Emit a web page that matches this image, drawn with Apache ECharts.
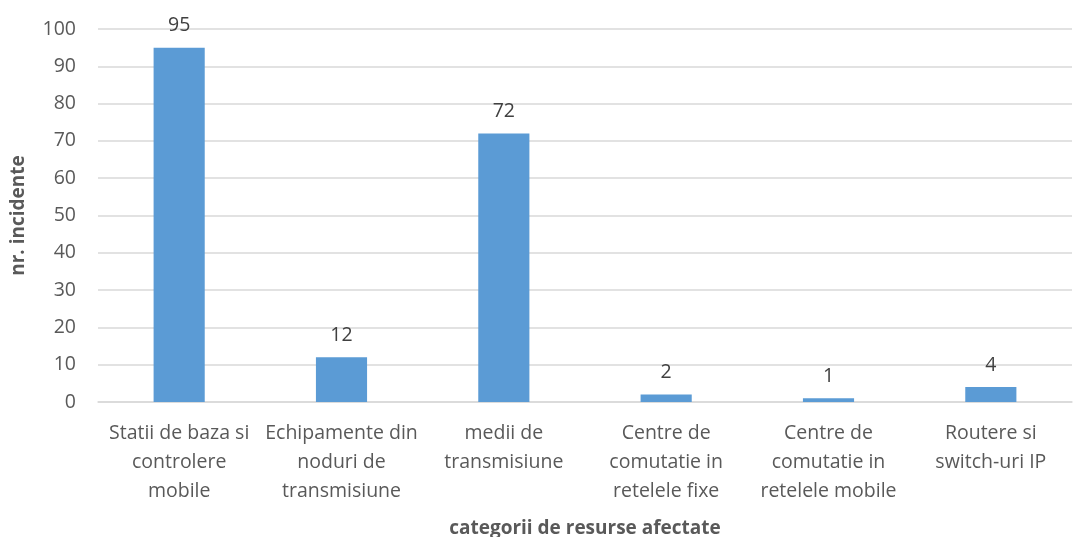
<!DOCTYPE html>
<html>
<head>
<meta charset="utf-8">
<script src="https://cdn.jsdelivr.net/npm/echarts@6/dist/echarts.min.js"></script>
<style>
  html, body { margin: 0; padding: 0; background: #fff; }
  #chart { width: 1075px; height: 537px; }
</style>
</head>
<body>
<div id="chart"></div>
<script>
  const categories = [
    'Statii de baza si\ncontrolere\nmobile',
    'Echipamente din\nnoduri de\ntransmisiune',
    'medii de\ntransmisiune',
    'Centre de\ncomutatie in\nretelele fixe',
    'Centre de\ncomutatie in\nretelele mobile',
    'Routere si\nswitch-uri IP'
  ]
  const values = [95, 12, 72, 2, 1, 4]
  const yTitle = 'nr. incidente'
  const xTitle = 'categorii de resurse afectate'

  const font = '"Open Sans", "Liberation Sans", sans-serif'
  const myChart = echarts.init(document.getElementById('chart'))
  const option = {
    textStyle: { fontFamily: font },
    grid: { left: 98, right: 3, top: 29, bottom: 135, outerBoundsMode: 'none', containLabel: false },
    xAxis: {
      type: 'category',
      data: categories,
      name: xTitle,
      nameLocation: 'middle',
      nameGap: 117,
      nameTextStyle: { color: '#595959', fontSize: 19, fontWeight: 'bold', fontFamily: font },
      axisLine: { lineStyle: { color: '#d9d9d9', width: 1.5 } },
      axisTick: { show: false },
      axisLabel: {
        color: '#595959',
        fontSize: 19.5,
        lineHeight: 29,
        margin: 17,
        interval: 0,
        fontFamily: font
      }
    },
    yAxis: {
      type: 'value',
      min: 0,
      max: 100,
      interval: 10,
      name: yTitle,
      nameLocation: 'middle',
      nameGap: 70,
      nameTextStyle: { color: '#595959', fontSize: 19, fontWeight: 'bold', fontFamily: font },
      axisLine: { show: false },
      axisTick: { show: false },
      axisLabel: { color: '#595959', fontSize: 19.5, margin: 22, fontFamily: font },
      splitLine: { lineStyle: { color: '#d9d9d9', width: 1.5 } }
    },
    series: [{
      type: 'bar',
      data: values,
      barWidth: '31.5%',
      itemStyle: { color: '#5b9bd5' },
      label: {
        show: true,
        position: 'top',
        distance: 12,
        color: '#404040',
        fontSize: 19.5,
        fontFamily: font
      }
    }]
  }
  myChart.setOption(option)
</script>
</body>
</html>
